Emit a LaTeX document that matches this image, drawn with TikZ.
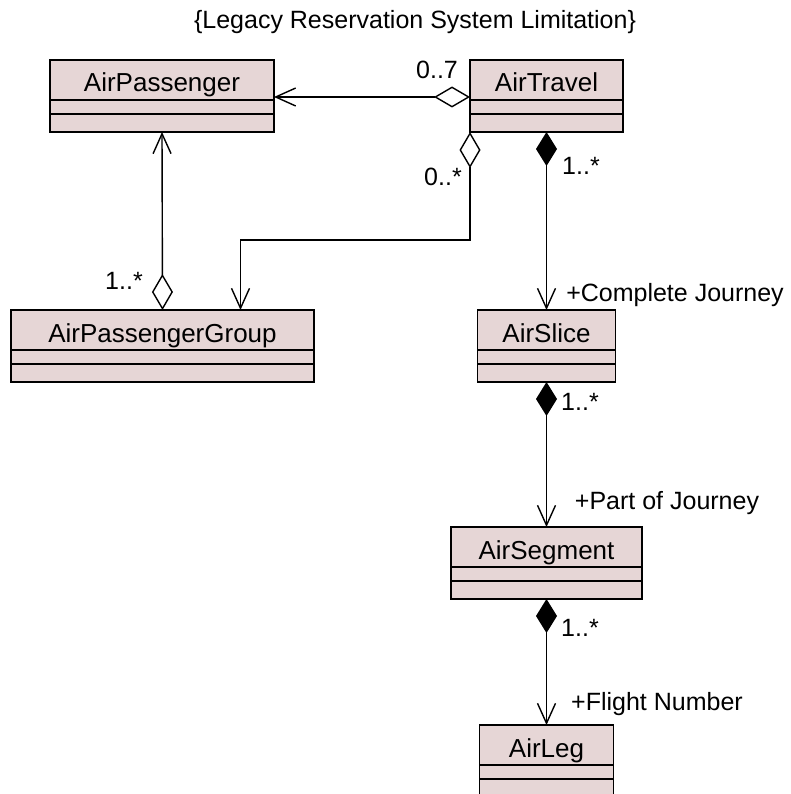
\documentclass[tikz,border=0pt]{standalone}
\usepackage{fontspec}
\setmainfont{Liberation Sans}
\usetikzlibrary{positioning,calc}
\usetikzlibrary{arrows.meta}
\tikzset{>={Straight Barb[length=20pt,width=18pt]}}
\definecolor{classfill}{RGB}{230,214,214}

\begin{document}
\begin{tikzpicture}[x=1pt, y=-1pt, line width=1.4pt]
      \tikzstyle{cname} = [draw=black, fill=classfill, rectangle, outer sep=0pt, inner sep=0pt, minimum height=40pt, text height=24pt, text depth=0pt, font=\fontsize{26}{30}\selectfont]
      \tikzstyle{cpart} = [draw=black, fill=classfill, rectangle, outer sep=0pt, inner sep=0pt]
      \tikzstyle{mult} = [inner sep=0pt, font=\fontsize{25}{30}\selectfont]
      \tikzstyle{agg} = [{Diamond[open,length=36pt,width=21pt]}->]
      \tikzstyle{comp} = [{Diamond[length=34pt,width=21pt]}->]

      \useasboundingbox (0,0) rectangle (790,794);
      \clip (0,0) rectangle (790,794);

      \node[mult] (title) at (415,22) {\{Legacy Reservation System Limitation\}};

      %%%%%%%%%%%%%%%%%%%%%%%%%%%%%% 
      %% The classes
      %%%%%%%%%%%%%%%%%%%%%%%%%%%%%% 
      \node[cname, minimum width=224pt, anchor=north] (ap) at (162,60) {AirPassenger};
      \node[cpart, minimum width=224pt, minimum height=14pt, below=0pt of ap] (ap2) {};
      \node[cpart, minimum width=224pt, minimum height=18pt, below=0pt of ap2] (ap3) {};

      \node[cname, minimum width=153pt, anchor=north] (at) at (546.5,60) {AirTravel};
      \node[cpart, minimum width=153pt, minimum height=14pt, below=0pt of at] (at2) {};
      \node[cpart, minimum width=153pt, minimum height=18pt, below=0pt of at2] (at3) {};

      \node[cname, minimum width=303pt, anchor=north] (apg) at (162.5,310) {AirPassengerGroup};
      \node[cpart, minimum width=303pt, minimum height=14pt, below=0pt of apg] (apg2) {};
      \node[cpart, minimum width=303pt, minimum height=18pt, below=0pt of apg2] (apg3) {};

      \node[cname, minimum width=138pt, anchor=north] (as) at (546.5,310) {AirSlice};
      \node[cpart, minimum width=138pt, minimum height=14pt, below=0pt of as] (as2) {};
      \node[cpart, minimum width=138pt, minimum height=18pt, below=0pt of as2] (as3) {};

      \node[cname, minimum width=191pt, anchor=north] (ag) at (546.5,527) {AirSegment};
      \node[cpart, minimum width=191pt, minimum height=14pt, below=0pt of ag] (ag2) {};
      \node[cpart, minimum width=191pt, minimum height=18pt, below=0pt of ag2] (ag3) {};

      \node[cname, minimum width=134pt, anchor=north] (al) at (546.5,725) {AirLeg};
      \node[cpart, minimum width=134pt, minimum height=14pt, below=0pt of al] (al2) {};
      \node[cpart, minimum width=134pt, minimum height=18pt, below=0pt of al2] (al3) {};

      %%%%%%%%%%%%%%%%%%%%%%%%%%%%%% 
      %% The associations
      %%%%%%%%%%%%%%%%%%%%%%%%%%%%%% 
      \draw[agg] ([yshift=3pt]at.south west) -- ([yshift=3pt]ap.south east);
      \draw[agg] (apg.north) -- (ap3.south);
      \draw[agg] (at3.south west) -- ++(0,108) -| ([xshift=78pt]apg.north);

      \draw[comp] (at3.south) -- (as.north);
      \draw[comp] (as3.south) -- (ag.north);
      \draw[comp] (ag3.south) -- (al.north);

      % multiplicities and roles
      \node[mult] (m1) at (437,70) {0..7};
      \node[mult] (m2) at (124,281) {1..*};
      \node[mult] (m3) at (443,177) {0..*};
      \node[mult] (m4) at (581,166) {1..*};
      \node[mult] (m5) at (580,402) {1..*};
      \node[mult] (m6) at (580,628) {1..*};

      \node[mult] (r1) at (675,295) {+Complete Journey};
      \node[mult] (r2) at (667,503) {+Part of Journey};
      \node[mult] (r3) at (657,704) {+Flight Number};

\end{tikzpicture}
\end{document}
